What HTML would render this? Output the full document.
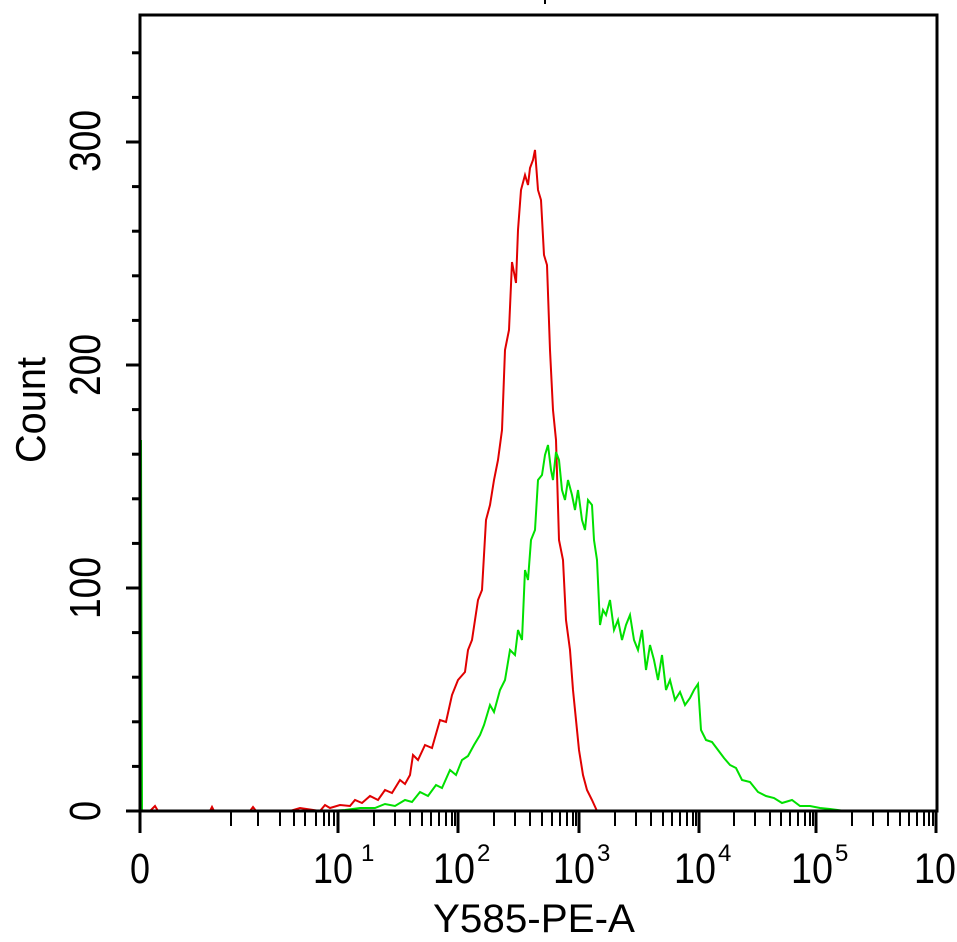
<!DOCTYPE html>
<html><head><meta charset="utf-8"><style>
body{margin:0;background:#fff}
svg{display:block}
text{font-family:"Liberation Sans",sans-serif;fill:#000}
</style></head><body>
<svg width="957" height="942" viewBox="0 0 957 942" xmlns="http://www.w3.org/2000/svg">
<rect width="957" height="942" fill="#fff"/>
<line x1="545" y1="0" x2="545" y2="4" stroke="#000" stroke-width="2"/>
<polyline fill="none" stroke="#00e000" stroke-width="2" points="141,811 141,440 142,811"/>
<polyline fill="none" stroke="#e00000" stroke-width="2" points="150,811 155,806 158,811 210,811 212,807 214,811 250,811 253,807 256,811 290,811 300,808 320,811 325,805 330,808 340,805 350,806 355,800 362,803 370,796 378,800 385,790 392,793 400,780 405,784 410,775 413,755 418,760 425,745 432,748 440,720 446,722 452,695 458,680 465,672 468,650 472,640 478,600 482,590 486,520 490,505 494,480 498,460 502,430 505,350 509,330 512,262 516,283 518,230 521,190 525,175 528,185 530,168 533,160 535,150 538,190 541,200 544,255 547,265 550,350 553,410 556,440 559,540 563,560 566,620 570,650 573,690 576,720 579,750 583,775 587,790 592,800 597,811"/>
<polyline fill="none" stroke="#00e000" stroke-width="2" points="330,811 345,810 360,808 375,808 385,804 395,806 405,800 412,802 420,792 428,796 436,785 442,788 450,770 456,775 462,760 468,756 474,745 480,735 484,725 490,705 494,712 500,690 505,680 510,650 515,655 518,630 522,640 525,570 528,580 531,540 535,530 538,480 542,475 545,455 548,445 551,470 553,480 556,452 559,460 562,490 565,500 568,480 572,495 575,510 578,490 582,520 585,530 588,500 592,505 594,540 597,560 600,625 603,610 606,615 610,600 614,630 618,620 622,640 626,625 630,615 634,640 638,650 642,630 646,670 650,645 654,660 658,680 662,655 666,690 670,680 675,700 680,692 685,705 690,698 694,690 698,684 701,730 706,740 712,742 718,750 724,758 730,765 736,768 742,780 750,782 758,792 766,796 774,798 782,803 792,800 800,806 810,806 820,808 830,809 845,811"/>
<rect x="140" y="15" width="797" height="796" fill="none" stroke="#000" stroke-width="3"/>
<g stroke="#000" stroke-width="3">
<line x1="126" y1="811" x2="140" y2="811"/><line x1="132" y1="766.4" x2="140" y2="766.4"/><line x1="132" y1="721.8" x2="140" y2="721.8"/><line x1="132" y1="677.2" x2="140" y2="677.2"/><line x1="132" y1="632.6" x2="140" y2="632.6"/>
<line x1="126" y1="588" x2="140" y2="588"/><line x1="132" y1="543.4" x2="140" y2="543.4"/><line x1="132" y1="498.8" x2="140" y2="498.8"/><line x1="132" y1="454.2" x2="140" y2="454.2"/><line x1="132" y1="409.6" x2="140" y2="409.6"/>
<line x1="126" y1="365" x2="140" y2="365"/><line x1="132" y1="320.4" x2="140" y2="320.4"/><line x1="132" y1="275.8" x2="140" y2="275.8"/><line x1="132" y1="231.2" x2="140" y2="231.2"/><line x1="132" y1="186.6" x2="140" y2="186.6"/>
<line x1="126" y1="142" x2="140" y2="142"/><line x1="132" y1="97.4" x2="140" y2="97.4"/><line x1="132" y1="52.8" x2="140" y2="52.8"/>
</g>
<g stroke="#000" stroke-width="3">
<line x1="140" y1="811" x2="140" y2="833"/><line x1="338" y1="811" x2="338" y2="833"/><line x1="458" y1="811" x2="458" y2="833"/><line x1="579" y1="811" x2="579" y2="833"/><line x1="699" y1="811" x2="699" y2="833"/><line x1="816" y1="811" x2="816" y2="833"/><line x1="936" y1="811" x2="936" y2="833"/>
</g>
<g stroke="#000" stroke-width="2">
<line x1="231" y1="811" x2="231" y2="826"/><line x1="258" y1="811" x2="258" y2="826"/><line x1="280" y1="811" x2="280" y2="826"/><line x1="294" y1="811" x2="294" y2="826"/><line x1="305" y1="811" x2="305" y2="826"/><line x1="316" y1="811" x2="316" y2="826"/><line x1="324" y1="811" x2="324" y2="826"/><line x1="329" y1="811" x2="329" y2="826"/><line x1="334" y1="811" x2="334" y2="826"/>
<line x1="374" y1="811" x2="374" y2="826"/><line x1="395" y1="811" x2="395" y2="826"/><line x1="410" y1="811" x2="410" y2="826"/><line x1="422" y1="811" x2="422" y2="826"/><line x1="431" y1="811" x2="431" y2="826"/><line x1="439" y1="811" x2="439" y2="826"/><line x1="446" y1="811" x2="446" y2="826"/><line x1="452" y1="811" x2="452" y2="826"/><line x1="455" y1="811" x2="455" y2="826"/>
<line x1="494" y1="811" x2="494" y2="826"/><line x1="515" y1="811" x2="515" y2="826"/><line x1="530" y1="811" x2="530" y2="826"/><line x1="542" y1="811" x2="542" y2="826"/><line x1="552" y1="811" x2="552" y2="826"/><line x1="560" y1="811" x2="560" y2="826"/><line x1="567" y1="811" x2="567" y2="826"/><line x1="573" y1="811" x2="573" y2="826"/><line x1="576" y1="811" x2="576" y2="826"/>
<line x1="615" y1="811" x2="615" y2="826"/><line x1="636" y1="811" x2="636" y2="826"/><line x1="651" y1="811" x2="651" y2="826"/><line x1="663" y1="811" x2="663" y2="826"/><line x1="672" y1="811" x2="672" y2="826"/><line x1="680" y1="811" x2="680" y2="826"/><line x1="687" y1="811" x2="687" y2="826"/><line x1="693" y1="811" x2="693" y2="826"/><line x1="696" y1="811" x2="696" y2="826"/>
<line x1="734" y1="811" x2="734" y2="826"/><line x1="755" y1="811" x2="755" y2="826"/><line x1="770" y1="811" x2="770" y2="826"/><line x1="781" y1="811" x2="781" y2="826"/><line x1="790" y1="811" x2="790" y2="826"/><line x1="798" y1="811" x2="798" y2="826"/><line x1="805" y1="811" x2="805" y2="826"/><line x1="810" y1="811" x2="810" y2="826"/><line x1="813" y1="811" x2="813" y2="826"/>
<line x1="852" y1="811" x2="852" y2="826"/><line x1="873" y1="811" x2="873" y2="826"/><line x1="888" y1="811" x2="888" y2="826"/><line x1="900" y1="811" x2="900" y2="826"/><line x1="909" y1="811" x2="909" y2="826"/><line x1="917" y1="811" x2="917" y2="826"/><line x1="924" y1="811" x2="924" y2="826"/><line x1="929" y1="811" x2="929" y2="826"/><line x1="933" y1="811" x2="933" y2="826"/>
</g>
<g font-size="43">
<text x="130" y="883" textLength="20" lengthAdjust="spacingAndGlyphs">0</text>
<text x="313" y="883" textLength="40" lengthAdjust="spacingAndGlyphs">10</text><text x="361" y="861" font-size="24">1</text>
<text x="433" y="883" textLength="42" lengthAdjust="spacingAndGlyphs">10</text><text x="477" y="861" font-size="24">2</text>
<text x="553" y="883" textLength="42" lengthAdjust="spacingAndGlyphs">10</text><text x="597" y="861" font-size="24">3</text>
<text x="674" y="883" textLength="42" lengthAdjust="spacingAndGlyphs">10</text><text x="718" y="861" font-size="24">4</text>
<text x="791" y="883" textLength="42" lengthAdjust="spacingAndGlyphs">10</text><text x="835" y="861" font-size="24">5</text>
<text x="914" y="883" textLength="42" lengthAdjust="spacingAndGlyphs">10</text>
</g>
<text x="433" y="932" font-size="40" textLength="202" lengthAdjust="spacingAndGlyphs">Y585-PE-A</text>
<g font-size="44">
<text transform="translate(100,821) rotate(-90)" textLength="20" lengthAdjust="spacingAndGlyphs">0</text>
<text transform="translate(100,619) rotate(-90)" textLength="62" lengthAdjust="spacingAndGlyphs">100</text>
<text transform="translate(100,396) rotate(-90)" textLength="62" lengthAdjust="spacingAndGlyphs">200</text>
<text transform="translate(100,172) rotate(-90)" textLength="62" lengthAdjust="spacingAndGlyphs">300</text>
<text transform="translate(45,463) rotate(-90)" font-size="42" textLength="106" lengthAdjust="spacingAndGlyphs">Count</text>
</g>
</svg>
</body></html>
